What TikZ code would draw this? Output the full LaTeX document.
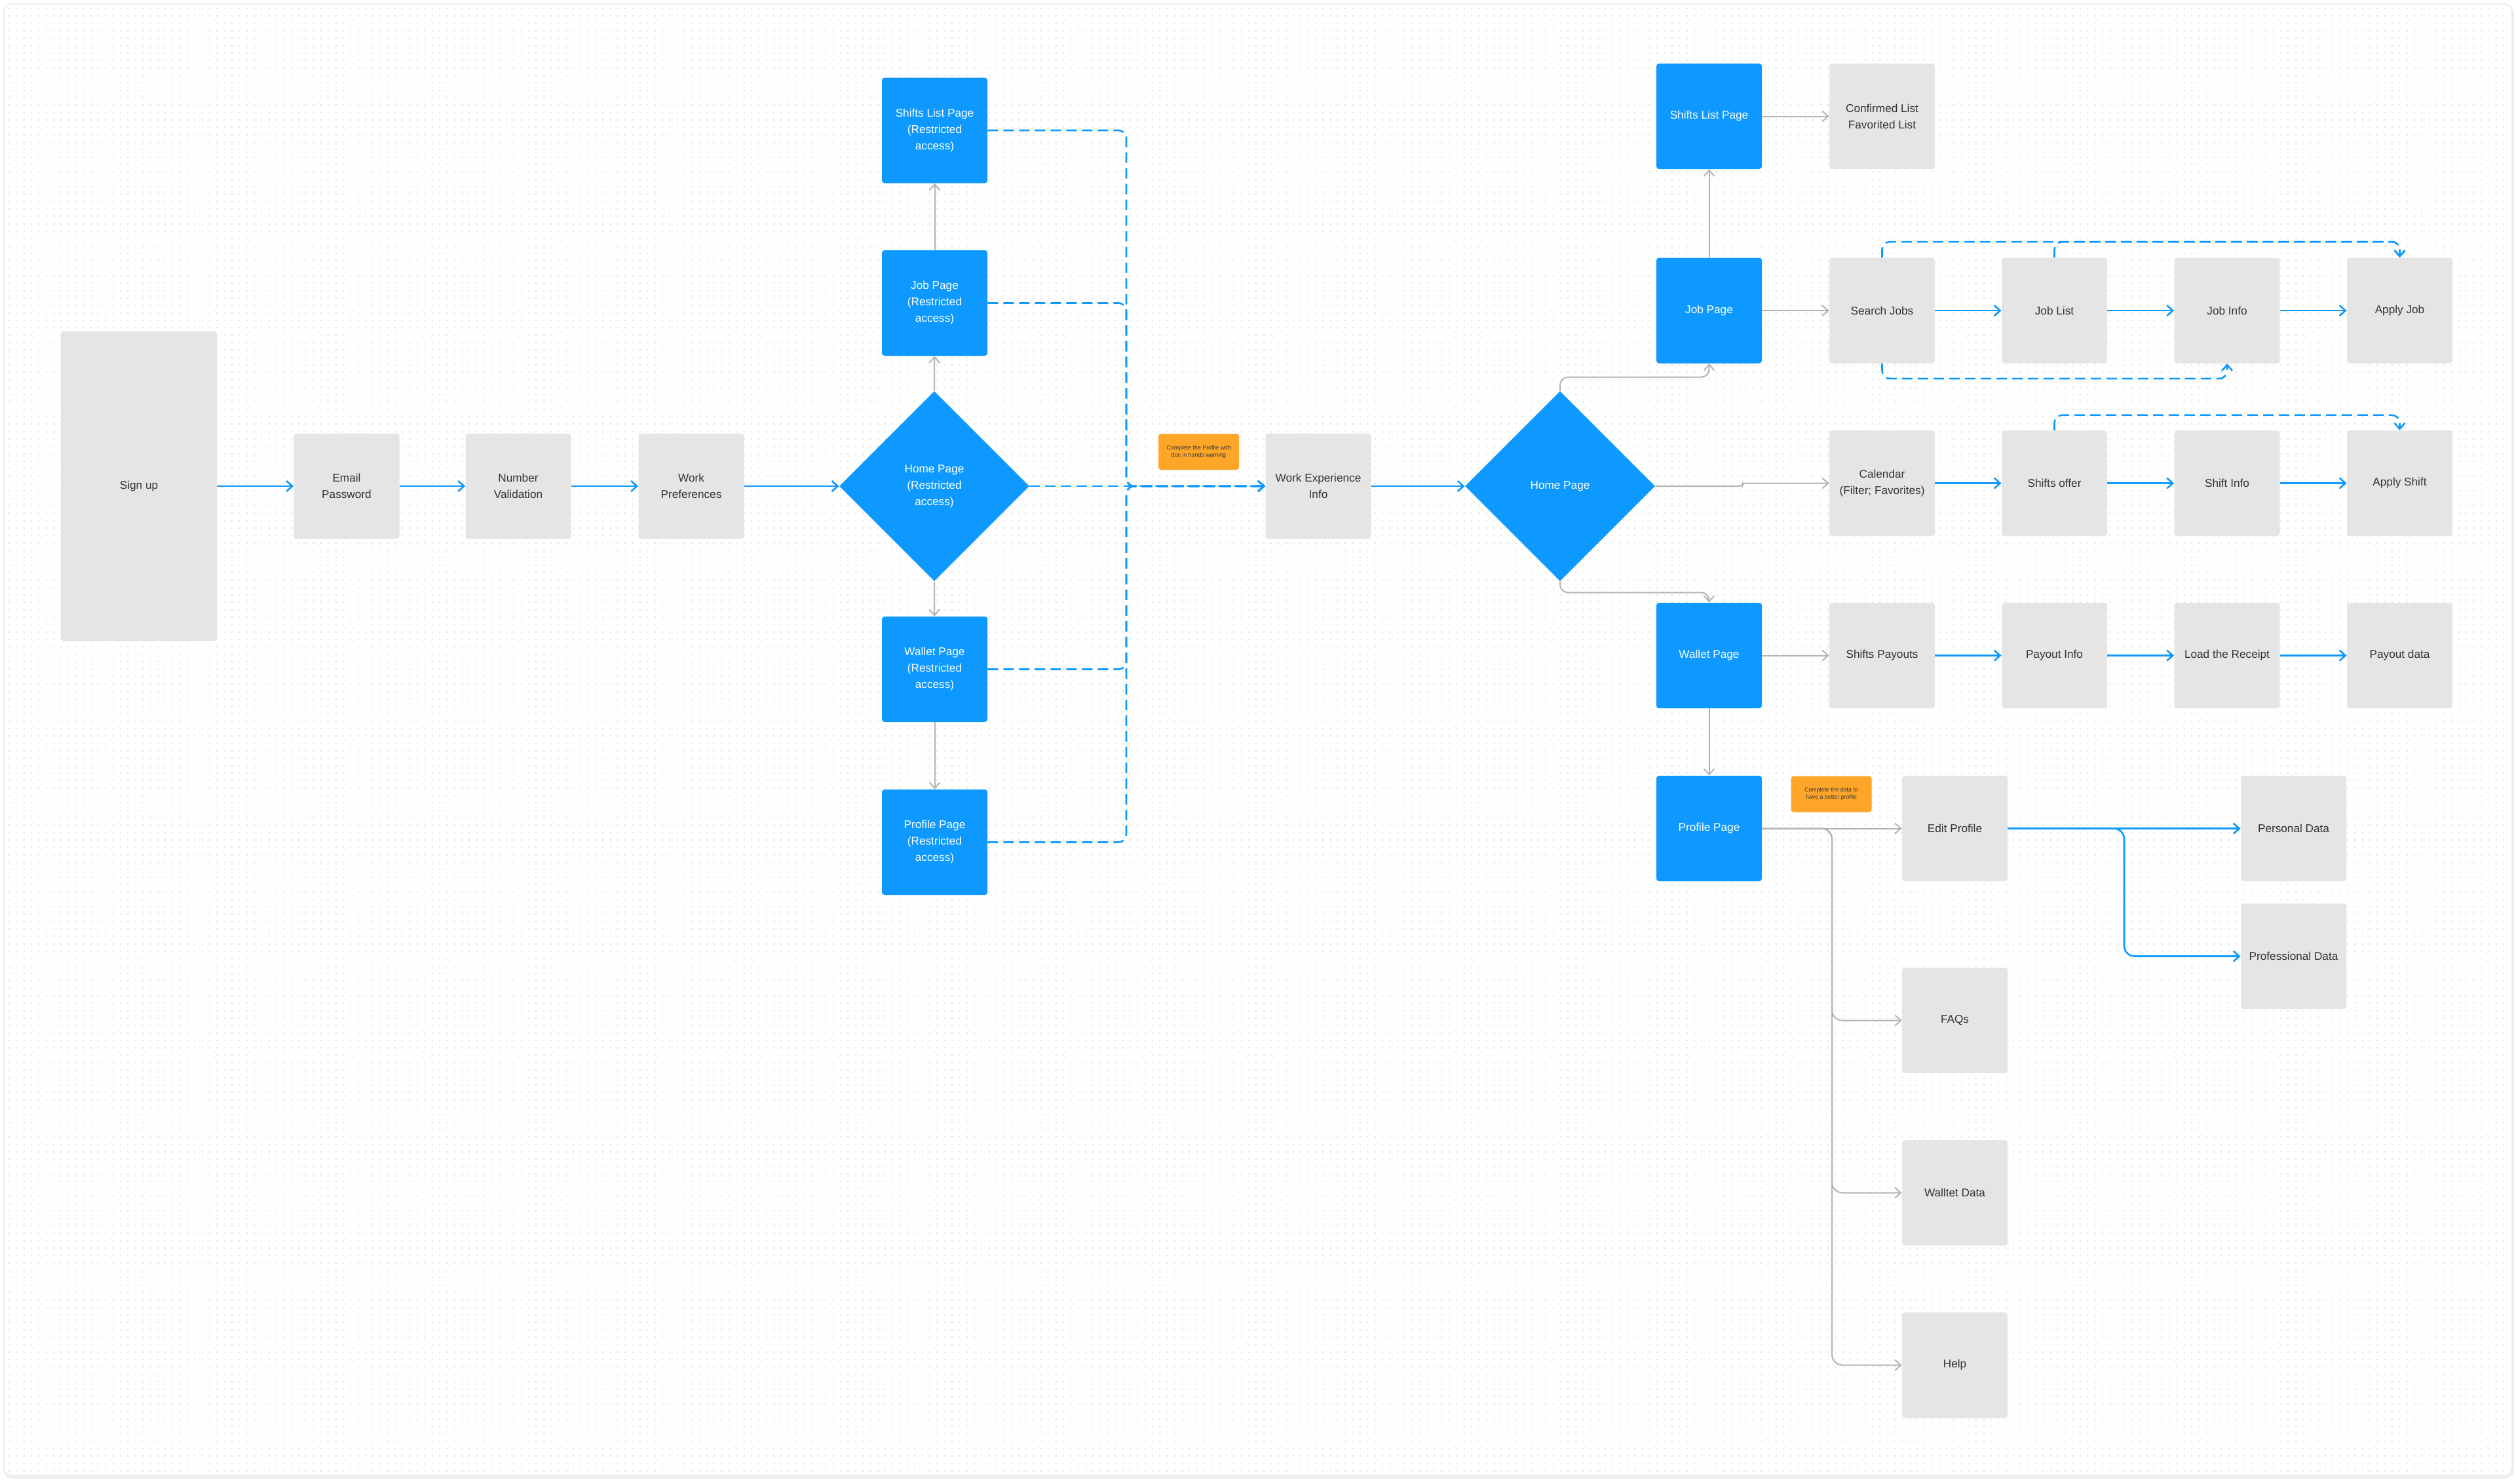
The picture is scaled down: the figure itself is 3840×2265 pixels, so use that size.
\documentclass[tikz,border=0pt]{standalone}
\usepackage{fontspec}
\setmainfont{Liberation Sans}
\usetikzlibrary{arrows.meta,shapes.geometric}

\definecolor{figblue}{HTML}{0D99FF}
\definecolor{boxgrey}{HTML}{E5E5E5}
\definecolor{noteorange}{HTML}{FFA629}
\definecolor{linegrey}{HTML}{B3B3B3}
\definecolor{dotgrey}{HTML}{E3E3E3}
\definecolor{inktext}{HTML}{333333}

\begin{document}
\begin{tikzpicture}[x=0.5pt, y=-0.5pt,
    page/.style={rectangle, rounded corners=2pt, fill=figblue, text=white,
        minimum width=80.5pt, minimum height=80.5pt, inner sep=1pt, align=center,
        font=\fontsize{8.6}{12.5}\selectfont},
    screen/.style={page, fill=boxgrey, text=inktext},
    hub/.style={diamond, aspect=1, fill=figblue, text=white, minimum width=145pt,
        minimum height=145pt, inner sep=1pt, align=center, font=\fontsize{8.6}{12.5}\selectfont},
    note/.style={rectangle, rounded corners=2pt, fill=noteorange, text=inktext,
        minimum width=61.5pt, minimum height=27.5pt, inner sep=1pt, align=center,
        font=\fontsize{4.4}{5.6}\selectfont},
    flow/.style={figblue, line width=1.3pt, -{Straight Barb[length=4.5pt,width=8pt]}},
    link/.style={linegrey, line width=1pt, -{Straight Barb[length=4.5pt,width=8pt]}},
    shortcut/.style={flow, dash pattern=on 8pt off 4pt},
    dotrow/.style={dotgrey, line width=1pt, dash pattern=on 1pt off 4.665pt}]
    \useasboundingbox (0,0) rectangle (3840,2265);
    \draw [gray!12, line width=2pt, rounded corners=6pt] (7,9) rectangle (3835,2255);
    \draw [gray!20, line width=0.6pt, fill=white, rounded corners=6pt] (6,6) rectangle (3834,2252);
    \foreach \k in {0,...,197}
        \draw [dotrow] (13,{2245-\k*11.33}) -- (3828,{2245-\k*11.33});

    \node [screen, minimum width=119pt, minimum height=236.5pt] (signup) at (212,742) {Sign up};
    \node [screen] (email) at (529,742) {Email\\Password};
    \node [screen] (number) at (791,742) {Number\\Validation};
    \node [screen] (prefs) at (1055,742) {Work\\Preferences};
    \node [hub] (homer) at (1426,742) {Home Page\\(Restricted\\access)};
    \node [page] (shiftsr) at (1426.5,199) {Shifts List Page\\(Restricted\\access)};
    \node [page] (jobr) at (1426.5,462.5) {Job Page\\(Restricted\\access)};
    \node [page] (walletr) at (1426.5,1021.5) {Wallet Page\\(Restricted\\access)};
    \node [page] (profiler) at (1426.5,1285.5) {Profile Page\\(Restricted\\access)};
    \node [note] (warndoc) at (1829.5,689.5) {Complete the Profile with\\doc in hands warning};
    \node [screen] (workexp) at (2012,742) {Work Experience\\Info};
    \coordinate (merge) at (1719,742);

    \node [hub] (home) at (2381,742) {Home Page};
    \node [page] (shifts) at (2608.5,177.5) {Shifts List Page};
    \node [screen] (lists) at (2872.5,177.5) {Confirmed List\\Favorited List};
    \node [page] (job) at (2608.5,474) {Job Page};
    \node [screen] (search) at (2872.5,474) {Search Jobs};
    \node [screen] (joblist) at (3135.5,474) {Job List};
    \node [screen] (jobinfo) at (3399,474) {Job Info};
    \node [screen] (applyjob) at (3662.5,474) {Apply Job};
    \node [screen] (calendar) at (2872.5,737.5) {Calendar\\(Filter; Favorites)};
    \node [screen] (offer) at (3135.5,737.5) {Shifts offer};
    \node [screen] (shiftinfo) at (3399,737.5) {Shift Info};
    \node [screen] (applyshift) at (3662.5,737.5) {Apply Shift};
    \node [page] (wallet) at (2608.5,1000.5) {Wallet Page};
    \node [screen] (payouts) at (2872.5,1000.5) {Shifts Payouts};
    \node [screen] (payinfo) at (3135.5,1000.5) {Payout Info};
    \node [screen] (receipt) at (3399,1000.5) {Load the Receipt};
    \node [screen] (paydata) at (3662.5,1000.5) {Payout data};
    \node [page] (profile) at (2608.5,1264.5) {Profile Page};
    \node [note] (warndata) at (2795,1212) {Complete the data to\\have a better profile};
    \node [screen] (edit) at (2983.5,1264.5) {Edit Profile};
    \node [screen] (personal) at (3500.5,1264.5) {Personal Data};
    \node [screen] (professional) at (3500.5,1459.5) {Professional Data};
    \node [screen] (faqs) at (2983.5,1557.5) {FAQs};
    \node [screen] (walletdata) at (2983.5,1820.5) {Walltet Data};
    \node [screen] (help) at (2983.5,2083.5) {Help};
    \coordinate (trunk) at (2796,1264.5);
    \coordinate (fork) at (3242,1264.5);

    \draw [flow] (signup) -- (email);
    \draw [flow] (email) -- (number);
    \draw [flow] (number) -- (prefs);
    \draw [flow] (prefs) -- (homer);
    \draw [link] (homer.north) -- (jobr);
    \draw [link] (jobr) -- (shiftsr);
    \draw [link] (homer.south) -- (walletr);
    \draw [link] (walletr) -- (profiler);
    \draw [shortcut, rounded corners=6pt] (shiftsr.east) -| (merge) -- (workexp.west);
    \draw [shortcut, rounded corners=6pt] (jobr.east) -| (merge) -- (workexp.west);
    \draw [shortcut] (homer.east) -- (workexp.west);
    \draw [shortcut, rounded corners=6pt] (walletr.east) -| (merge) -- (workexp.west);
    \draw [shortcut, rounded corners=6pt] (profiler.east) -| (merge) -- (workexp.west);
    \draw [flow] (workexp) -- (home.west);

    \draw [link, rounded corners=6pt] (home.north) -- ++(0,-21) -| (job.south);
    \draw [link] (job) -- (shifts);
    \draw [link] (shifts) -- (lists);
    \draw [link] (job) -- (search);
    \draw [flow] (search) -- (joblist);
    \draw [flow] (joblist) -- (jobinfo);
    \draw [flow] (jobinfo) -- (applyjob);
    \draw [shortcut, rounded corners=6pt] (search.north) -- ++(0,-24) -| (applyjob.north);
    \draw [shortcut, rounded corners=6pt] (joblist.north) -- ++(0,-24) -| (applyjob.north);
    \draw [shortcut, rounded corners=6pt] (search.south) -- ++(0,23) -| (jobinfo.south);

    \draw [link, rounded corners=2pt] (home.east) -- ++(133,0) |- (calendar.west);
    \draw [flow] (calendar) -- (offer);
    \draw [flow] (offer) -- (shiftinfo);
    \draw [flow] (shiftinfo) -- (applyshift);
    \draw [shortcut, rounded corners=6pt] (offer.north) -- ++(0,-23) -| (applyshift.north);

    \draw [link, rounded corners=6pt] (home.south) -- ++(0,17) -| (wallet.north);
    \draw [link] (wallet) -- (payouts);
    \draw [flow] (payouts) -- (payinfo);
    \draw [flow] (payinfo) -- (receipt);
    \draw [flow] (receipt) -- (paydata);
    \draw [link] (wallet) -- (profile);

    \draw [link] (profile) -- (edit);
    \draw [link, rounded corners=8pt] (profile.east) -- (trunk) |- (faqs.west);
    \draw [link, rounded corners=8pt] (profile.east) -- (trunk) |- (walletdata.west);
    \draw [link, rounded corners=8pt] (profile.east) -- (trunk) |- (help.west);
    \draw [flow] (edit) -- (personal);
    \draw [flow, rounded corners=8pt] (edit.east) -- (fork) |- (professional.west);
\end{tikzpicture}
\end{document}
